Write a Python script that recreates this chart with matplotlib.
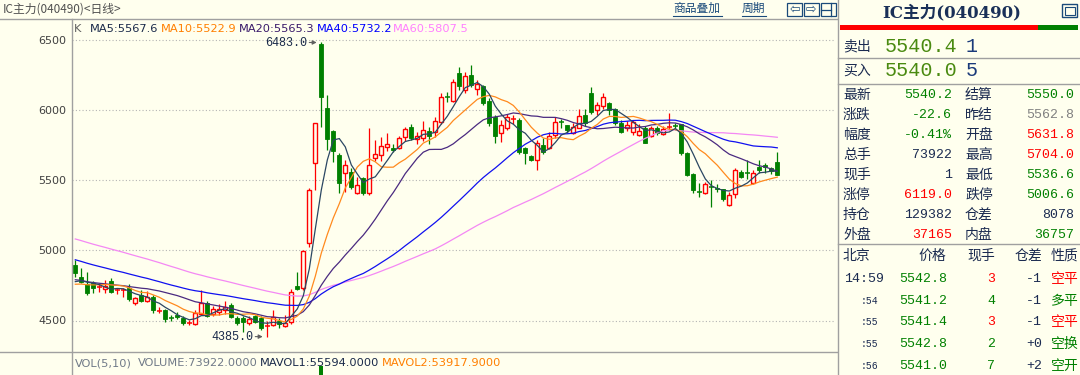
import matplotlib
matplotlib.use('Agg')
import matplotlib.pyplot as plt
from matplotlib.patches import Rectangle
import numpy as np
import pandas as pd

W, H = 1080, 375
BG = '#FFFFEE'
RED = '#ff0000'
GREEN = '#008000'
NAVY = '#1a2a50'
GRAY = '#a0a0a0'
CJK = ['Noto Sans CJK SC', 'DejaVu Sans']
MONO = ['Liberation Mono', 'Noto Sans CJK SC']

# daily OHLC of IC main contract
opens = [4896, 4808, 4758, 4765, 4735, 4724, 4782, 4712, 4714, 4729,
         4623, 4682, 4640, 4670, 4568, 4575, 4523, 4540, 4521, 4483,
         4476, 4546, 4623, 4546, 4558, 4575, 4611, 4516, 4516, 4485,
         4532, 4516, 4456, 4468, 4497, 4461, 4490, 4746, 4729, 5050,
         5625, 6470, 6013, 5852, 5681, 5550, 5561, 5407, 5514, 5407,
         5656, 5681, 5735, 5733, 5729, 5811, 5882, 5792, 5800, 5852,
         5847, 5914, 6098, 6068, 6263, 6144, 6251, 6149, 6173, 6068,
         5949, 5835, 5871, 5932, 5930, 5733, 5673, 5645, 5752, 5729,
         5823, 5916, 5895, 5839, 5875, 5966, 6120, 6001, 6032, 6054,
         6006, 5906, 5875, 5847, 5823, 5871, 5816, 5871, 5830, 5880,
         5891, 5899, 5697, 5543, 5421, 5412, 5456, 5447, 5436, 5324,
         5400, 5561, 5552, 5479, 5597, 5609, 5586, 5631.8]
highs = [4932, 4872, 4848, 4784, 4767, 4786, 4800, 4730, 4735, 4760,
         4670, 4720, 4712, 4680, 4594, 4580, 4540, 4560, 4530, 4506,
         4575, 4714, 4640, 4600, 4620, 4640, 4625, 4530, 4530, 4530,
         4540, 4530, 4500, 4575, 4520, 4540, 4725, 4848, 5005, 5443,
         5910, 6483, 6108, 5859, 5692, 5645, 5590, 5520, 5525, 5871,
         5787, 5810, 5840, 5760, 5815, 5880, 5900, 5845, 5925, 5880,
         5955, 6120, 6130, 6220, 6310, 6275, 6322, 6215, 6180, 6085,
         5965, 5930, 5975, 5965, 5945, 5740, 5680, 5790, 5800, 5845,
         5950, 5935, 5895, 5910, 6006, 6010, 6167, 6060, 6120, 6060,
         6015, 5930, 5920, 5930, 5900, 5885, 5885, 5885, 5885, 5978,
         5910, 5905, 5705, 5550, 5478, 5490, 5500, 5475, 5440, 5420,
         5590, 5572, 5645, 5572, 5645, 5620, 5595, 5704.0]
lows = [4812, 4765, 4682, 4694, 4703, 4694, 4694, 4690, 4665, 4640,
        4610, 4630, 4632, 4551, 4551, 4492, 4500, 4510, 4470, 4470,
        4470, 4540, 4525, 4535, 4540, 4545, 4515, 4470, 4420, 4470,
        4480, 4435, 4385, 4460, 4450, 4455, 4475, 4715, 4715, 5025,
        5431, 5882, 5717, 5633, 5407, 5419, 5440, 5400, 5395, 5395,
        5640, 5640, 5710, 5700, 5720, 5780, 5790, 5760, 5780, 5760,
        5810, 5905, 6060, 6060, 6145, 6120, 6165, 6110, 6035, 5885,
        5765, 5770, 5860, 5905, 5690, 5617, 5635, 5575, 5690, 5720,
        5800, 5870, 5840, 5830, 5870, 5890, 5975, 5965, 6010, 5965,
        5895, 5835, 5850, 5825, 5816, 5764, 5810, 5825, 5820, 5860,
        5860, 5680, 5530, 5407, 5383, 5405, 5312, 5415, 5355, 5320,
        5375, 5515, 5510, 5474, 5550, 5550, 5545, 5536.6]
closes = [4841, 4774, 4694, 4730, 4740, 4748, 4706, 4718, 4720, 4651,
          4658, 4641, 4670, 4575, 4572, 4511, 4519, 4528, 4480, 4487,
          4551, 4627, 4532, 4580, 4580, 4596, 4523, 4480, 4492, 4511,
          4492, 4445, 4462, 4528, 4473, 4485, 4706, 4722, 4997, 5431,
          5906, 6096, 5792, 5711, 5483, 5609, 5454, 5467, 5407, 5609,
          5688, 5745, 5759, 5716, 5800, 5864, 5800, 5816, 5859, 5816,
          5923, 6092, 6094, 6203, 6173, 6244, 6180, 6187, 6054, 5906,
          5816, 5895, 5949, 5936, 5704, 5693, 5645, 5768, 5704, 5816,
          5914, 5912, 5859, 5882, 5961, 5911, 5989, 6037, 6092, 6001,
          5906, 5847, 5895, 5918, 5852, 5764, 5871, 5839, 5866, 5884,
          5887, 5692, 5538, 5431, 5417, 5471, 5452, 5436, 5364, 5395,
          5572, 5525, 5548, 5550, 5573, 5592, 5566, 5540.2]
# closes of the sessions before the visible window (only felt through the MAs)
prior_closes = [5500, 5470, 5480, 5440, 5420, 5430, 5400, 5390, 5410, 5380,
                5360, 5370, 5350, 5330, 5340, 5320, 5300, 5310, 5290, 5280,
                5250, 5220, 5200, 5180, 5170, 5150, 5140, 5120, 5110, 5090,
                5080, 5060, 5050, 5030, 5010, 4980, 4950, 4930, 4900, 4890,
                4870, 4880, 4850, 4840, 4830, 4815, 4800, 4795, 4780, 4770,
                4760, 4745, 4740, 4730, 4725, 4740, 4750, 4765, 4790]

ma_periods = [5, 10, 20, 40, 60]
ma_colors = ['#2b4763', '#ff8a1e', '#4a2a80', '#1010f0', '#f488f4']
ma_text_colors = ['#1a2a4a', '#ff7f00', '#3a1a6a', '#0000ff', '#ff80ff']
ma_last = ['5567.6', '5522.9', '5565.3', '5732.2', '5807.5']
price_ticks = [4500, 5000, 5500, 6000, 6500]
peak_vol = 262000

# quote panel
ask = ('5540.4', '1')
bid = ('5540.0', '5')
ask_vol, bid_vol = 1, 5
quote_left = [('最新', '5540.2', GREEN), ('涨跌', '-22.6', GREEN), ('幅度', '-0.41%', GREEN),
              ('总手', '73922', NAVY), ('现手', '1', NAVY), ('涨停', '6119.0', RED),
              ('持仓', '129382', NAVY), ('外盘', '37165', RED)]
quote_right = [('结算', '5550.0', GREEN), ('昨结', '5562.8', '#808080'), ('开盘', '5631.8', RED),
               ('最高', '5704.0', RED), ('最低', '5536.6', GREEN), ('跌停', '5006.6', GREEN),
               ('仓差', '8078', NAVY), ('内盘', '36757', GREEN)]
tick_time = ['14:59', ':54', ':55', ':55', ':56']
tick_price = ['5542.8', '5541.2', '5541.4', '5542.8', '5541.0']
tick_qty = ['3', '4', '3', '2', '7']
tick_oi = ['-1', '-1', '-1', '+0', '+2']
tick_kind = ['空平', '多平', '空平', '空换', '空开']
tick_col = [RED, GREEN, RED, GREEN, GREEN]

n = len(closes)
xs = np.arange(n)
allc = pd.Series(prior_closes + closes)
mas = [allc.rolling(p).mean().to_numpy()[-n:] for p in ma_periods]

fig = plt.figure(figsize=(W / 100, H / 100), dpi=100, facecolor=BG)

# price axes: candle i sits at x = 75.3 + 6 i px, 6500 at y = 40.1 px, 500 pts = 70.1 px
def px2price(y):
    return 6500 - (y - 40.1) * 500 / 70.1

ax = fig.add_axes([72 / W, (H - 352) / H, (835 - 72) / W, (352 - 19.5) / H])
ax.patch.set_visible(False)
ax.set_xlim((72 - 75.3) / 6, (835 - 75.3) / 6)
ax.set_ylim(px2price(352), px2price(19.5))
for s in ax.spines.values():
    s.set_visible(False)
ax.set_xticks([])
ax.set_yticks(price_ticks)
ax.set_yticklabels([str(t) for t in price_ticks], fontsize=8, color='#404040')
ax.tick_params(axis='y', length=0, pad=4)
for t in price_ticks:
    ax.axhline(t, color='#b4b4b4', lw=0.8, ls=(0, (1, 2)), zorder=1)

for i in range(n):
    o, h, l, c = opens[i], highs[i], lows[i], closes[i]
    col = RED if c >= o else GREEN
    ax.vlines(i, l, h, color=col, lw=0.9, zorder=2)
    if abs(c - o) < 8:
        ax.hlines((o + c) / 2, i - 0.38, i + 0.38, color=col, lw=1.1, zorder=3)
    elif c > o:
        ax.add_patch(Rectangle((i - 0.36, o), 0.72, c - o, facecolor=BG,
                               edgecolor=col, lw=1.0, zorder=3))
    else:
        ax.add_patch(Rectangle((i - 0.36, c), 0.72, o - c, facecolor=col,
                               edgecolor=col, lw=0.6, zorder=3))

for m, colr in zip(mas[::-1], ma_colors[::-1]):
    ax.plot(xs, m, color=colr, lw=0.9, zorder=4)

ih = int(np.argmax(highs))
il = int(np.argmin(lows))
ax.annotate('', xy=(ih - 0.3, highs[ih]), xytext=(-13, 0), textcoords='offset pixels',
            arrowprops=dict(arrowstyle='-|>', color='#606060', lw=0.8, mutation_scale=6))
ax.annotate('%.1f' % highs[ih], xy=(ih, highs[ih]), xytext=(-14, -1), textcoords='offset pixels',
            ha='right', va='center', fontsize=8.5, family=MONO, color='#1a2a4a')
ax.annotate('', xy=(il - 0.3, lows[il]), xytext=(-13, 0), textcoords='offset pixels',
            arrowprops=dict(arrowstyle='-|>', color='#606060', lw=0.8, mutation_scale=6))
ax.annotate('%.1f' % lows[il], xy=(il, lows[il]), xytext=(-14, 0), textcoords='offset pixels',
            ha='right', va='center', fontsize=8.5, family=MONO, color='#1a2a4a')

# volume strip, only the top of the biggest bar shows
vax = fig.add_axes([72 / W, 0, (835 - 72) / W, 22 / H])
vax.patch.set_visible(False)
vax.set_xlim(ax.get_xlim())
vax.set_ylim(236000, 300000)
vax.axis('off')
vax.bar([ih], [peak_vol], width=0.72, color=GREEN)

# overlay in pixel coords
ov = fig.add_axes([0, 0, 1, 1])
ov.set_xlim(0, W)
ov.set_ylim(H, 0)
ov.axis('off')
ov.patch.set_visible(False)

def txt(x, y, s, **kw):
    kw.setdefault('va', 'center')
    ov.text(x, y, s, **kw)

ov.plot([0, 837], [19, 19], color=GRAY, lw=1)
ov.plot([0, 837], [352, 352], color=GRAY, lw=1)
ov.plot([72, 72], [19, 375], color=GRAY, lw=1)
ov.plot([837.5, 837.5], [0, 375], color=GRAY, lw=1)

txt(3, 9, 'IC主力(040490)<日线>', fontsize=8.5, family=CJK, color='#505050')
txt(673, 8.5, '商品叠加', fontsize=8.5, family=CJK, color='#1a4a7a')
ov.plot([673, 722], [16, 16], color='#1a4a7a', lw=0.8)
txt(742, 8.5, '周期', fontsize=8.5, family=CJK, color='#1a4a7a')
ov.plot([742, 766], [16, 16], color='#1a4a7a', lw=0.8)
for bx, sym in [(787, '⇦'), (803.5, '⇨')]:
    ov.add_patch(Rectangle((bx, 2.5), 15, 13.5, fill=False, edgecolor='#1a4a7a', lw=0.9))
    txt(bx + 7.5, 9.5, sym, ha='center', fontsize=9, color='#1a4a7a')
ov.add_patch(Rectangle((820.5, 2.5), 15, 13.5, fill=False, edgecolor='#1a4a7a', lw=0.9))
ov.plot([831, 831], [2.5, 16], color='#1a4a7a', lw=0.9)
ov.plot([820.5, 831], [9.5, 9.5], color='#1a4a7a', lw=0.9)

txt(74, 28.5, 'K', fontsize=8.2, color='#606060')
for xpos, p, lab, c in zip([90, 161, 239, 317, 393], ma_periods, ma_last, ma_text_colors):
    txt(xpos, 28.5, 'MA%d:%s' % (p, lab), fontsize=8.2, color=c)

txt(75, 363, 'VOL(5,10)', fontsize=8.2, color='#707a88')
txt(138, 363, 'VOLUME:73922.0000', fontsize=8.2, color='#707a88')
txt(260, 363, 'MAVOL1:55594.0000', fontsize=8.2, color='#1a2a4a')
txt(382, 363, 'MAVOL2:53917.9000', fontsize=8.2, color='#ff7f00')

# right quote panel
txt(952, 13, 'IC主力(040490)', ha='center', fontsize=12, weight='bold',
    family=['DejaVu Serif', 'Noto Sans CJK SC'], color='#1a3058')
ov.add_patch(Rectangle((1062, 3.5), 15, 13, fill=False, edgecolor='#1a4a7a', lw=1))
ov.add_patch(Rectangle((1064.5, 6.5), 10, 8, fill=False, edgecolor='#1a4a7a', lw=0.8))
split = 840 + (1078 - 840) * bid_vol / (bid_vol + ask_vol)
ov.add_patch(Rectangle((840, 25), split - 840, 5, color=RED, lw=0))
ov.add_patch(Rectangle((split, 25), 1078 - split, 5, color=GREEN, lw=0))
for yy in [58, 84, 244]:
    ov.plot([838, W], [yy, yy], color=GRAY, lw=1)

txt(843, 46, '卖出', fontsize=10, family=CJK, color=NAVY)
txt(885, 46, ask[0], fontsize=14.5, family=MONO, color='#4a8a10')
txt(966, 46, ask[1], fontsize=14.5, family=MONO, color='#1a3a7a')
txt(843, 71, '买入', fontsize=10, family=CJK, color=NAVY)
txt(885, 71, bid[0], fontsize=14.5, family=MONO, color='#4a8a10')
txt(966, 71, bid[1], fontsize=14.5, family=MONO, color='#1a3a7a')

for k in range(len(quote_left)):
    y = 94.5 + 20 * k
    la, va_, ca = quote_left[k]
    lb, vb, cb = quote_right[k]
    txt(843, y, la, fontsize=10, family=CJK, color=NAVY)
    txt(952, y, va_, ha='right', fontsize=9.5, family=MONO, color=ca)
    txt(965, y, lb, fontsize=10, family=CJK, color=NAVY)
    txt(1074, y, vb, ha='right', fontsize=9.5, family=MONO, color=cb)

txt(843, 256, '北京', fontsize=10, family=CJK, color=NAVY)
txt(946, 256, '价格', ha='right', fontsize=10, family=CJK, color=NAVY)
txt(995, 256, '现手', ha='right', fontsize=10, family=CJK, color=NAVY)
txt(1042, 256, '仓差', ha='right', fontsize=10, family=CJK, color=NAVY)
txt(1051, 256, '性质', fontsize=10, family=CJK, color=NAVY)
for k in range(len(tick_time)):
    y = 279 + 21.7 * k
    if k == 0:
        txt(844, y, tick_time[k], fontsize=9.5, family=MONO, color=NAVY)
    else:
        txt(878, y, tick_time[k], ha='right', fontsize=7, family=MONO, color=NAVY)
    txt(947, y, tick_price[k], ha='right', fontsize=9.5, family=MONO, color=GREEN)
    txt(995, y, tick_qty[k], ha='right', fontsize=9.5, family=MONO, color=tick_col[k])
    txt(1042, y, tick_oi[k], ha='right', fontsize=9.5, family=MONO, color=NAVY)
    txt(1051, y, tick_kind[k], fontsize=10, family=CJK, color=tick_col[k])

fig.savefig('out.png', dpi=100, facecolor=BG)
